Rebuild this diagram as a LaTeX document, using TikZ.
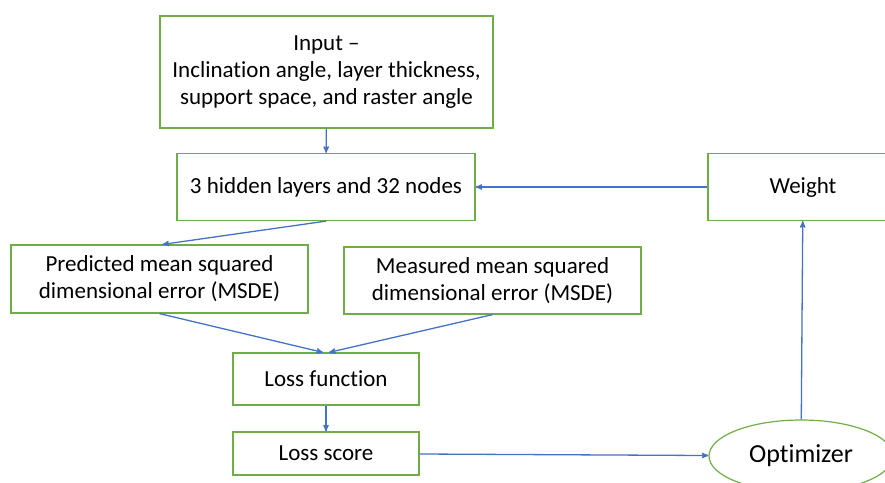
\documentclass[tikz,border=0pt]{standalone}
\usepackage{fontspec}
\setmainfont{Carlito}[Ligatures={TeX,NoCommon}]
\usetikzlibrary{arrows,shapes.geometric}

\definecolor{boxgreen}{RGB}{112,173,71}
\definecolor{linkblue}{RGB}{68,114,196}

\begin{document}
\begin{tikzpicture}[x=1pt,y=-1pt,>=stealth',
  link/.style={->,draw=linkblue,line width=1.3pt},
  block/.style={rectangle,draw=boxgreen,line width=1.2pt,align=center,
    inner sep=0pt,font=\fontsize{23}{27}\selectfont},
  round/.style={ellipse,draw=boxgreen,line width=1.2pt,inner sep=0pt,
    minimum width=184pt,minimum height=72pt,font=\fontsize{26}{30}\selectfont}]
\useasboundingbox (0,0) rectangle (885,482);
\node[block,minimum width=333pt,minimum height=112pt] (input) at (326.5,72)
  {Input --\\Inclination angle, layer thickness,\\support space, and raster angle};
\node[block,minimum width=298pt,minimum height=67pt] (hidden) at (326,187)
  {3 hidden layers and 32 nodes};
\node[block,minimum width=190pt,minimum height=67pt] (weight) at (803,187) {Weight};
\node[block,minimum width=297pt,minimum height=68pt] (predicted) at (159.5,279)
  {Predicted mean squared\\dimensional error (MSDE)};
\node[block,minimum width=297pt,minimum height=67pt] (measured) at (492.5,280.5)
  {Measured mean squared\\dimensional error (MSDE)};
\node[block,minimum width=186pt,minimum height=52pt] (lossfn) at (326,379) {Loss function};
\node[block,minimum width=186pt,minimum height=43pt] (lossscore) at (326,453.5) {Loss score};
\node[round] (optim) at (801,456) {Optimizer};

% links
\draw[link] (input) -- (hidden);
\draw[link] (weight) -- (hidden);
\draw[link] (hidden.south) -- ([xshift=3pt]predicted.north);
\draw[link] (predicted.south) -- ([xshift=-3pt]lossfn.north);
\draw[link] (measured.south) -- ([xshift=3pt]lossfn.north);
\draw[link] (lossfn) -- (lossscore);
\draw[link] (lossscore) -- (optim);
\draw[link] (optim) -- (weight);
\end{tikzpicture}
\end{document}
